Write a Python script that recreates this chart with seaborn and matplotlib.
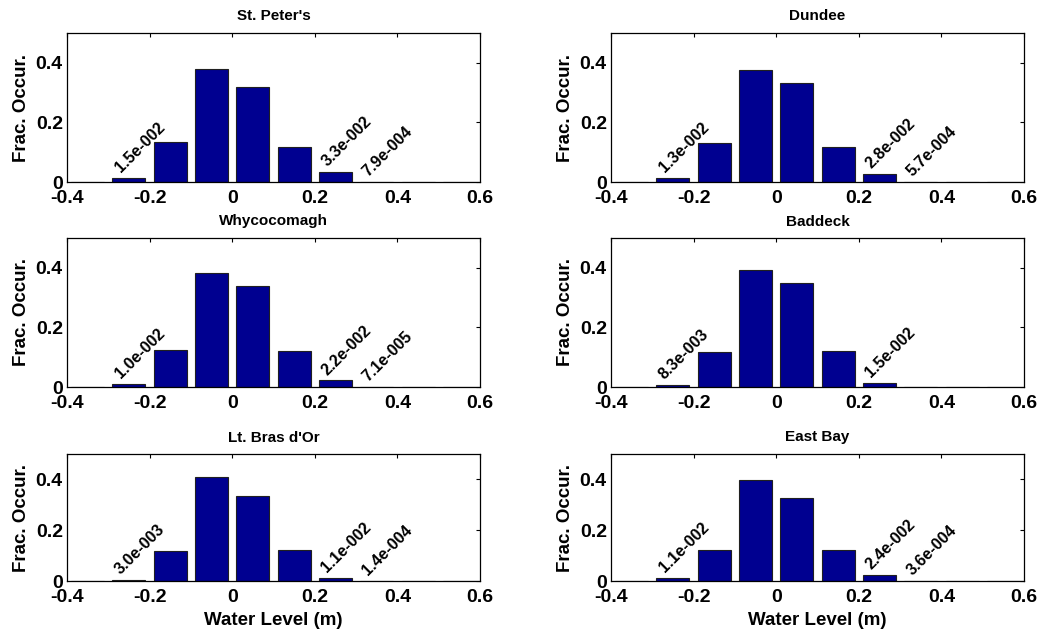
import matplotlib
matplotlib.use("Agg")
import matplotlib.pyplot as plt
import seaborn as sns
import pandas as pd

# ---- data ----
bin_centers = [-0.35, -0.25, -0.15, -0.05, 0.05, 0.15, 0.25, 0.35, 0.45, 0.55]
st_peters   = [0, 0.015, 0.135, 0.378, 0.320, 0.118, 0.033, 7.9e-4, 0, 0]
dundee      = [0, 0.013, 0.132, 0.377, 0.332, 0.117, 0.028, 5.7e-4, 0, 0]
whycocomagh = [0, 0.010, 0.125, 0.382, 0.338, 0.122, 0.022, 7.1e-5, 0, 0]
baddeck     = [0, 0.0083, 0.117, 0.391, 0.349, 0.120, 0.015, 0, 0, 0]
lt_bras_dor = [0, 0.003, 0.118, 0.409, 0.336, 0.122, 0.011, 1.4e-4, 0, 0]
east_bay    = [0, 0.011, 0.121, 0.396, 0.327, 0.121, 0.024, 3.6e-4, 0, 0]

titles = ["St. Peter's", "Dundee", "Whycocomagh", "Baddeck", "Lt. Bras d'Or", "East Bay"]
series = [st_peters, dundee, whycocomagh, baddeck, lt_bras_dor, east_bay]

x_ticks = [-0.4, -0.2, 0, 0.2, 0.4, 0.6]
x_tick_labels = ["-0.4", "-0.2", "0", "0.2", "0.4", "0.6"]
y_ticks = [0, 0.2, 0.4]
y_tick_labels = ["0", "0.2", "0.4"]

sns.set_theme(style="white")
plt.rcParams["font.family"] = ["Liberation Sans", "DejaVu Sans"]
plt.rcParams["font.weight"] = "bold"
plt.rcParams["axes.unicode_minus"] = False
for k in ["text.color", "axes.labelcolor", "xtick.color", "ytick.color", "axes.edgecolor"]:
    plt.rcParams[k] = "black"

BAR_COLOR = "#000090"


def fmt(v):
    s = f"{v:.1e}"
    m, e = s.split("e")
    return f"{m}e{int(e):+04d}"


fig = plt.figure(figsize=(10.42, 6.36), dpi=100)

W = 1042.0
H = 636.0
col_left = [67 / W, 611 / W]
ax_w = 413 / W
rows = [(33, 182), (238, 387), (454, 581)]

for i, (title, vals) in enumerate(zip(titles, series)):
    r, c = divmod(i, 2)
    top, bot = rows[r]
    ax = fig.add_axes([col_left[c], 1 - bot / H, ax_w, (bot - top) / H])
    df = pd.DataFrame({"level": bin_centers, "frac": vals})
    sns.barplot(data=df, x="level", y="frac", native_scale=True, orient="x",
                color=BAR_COLOR, saturation=1, edgecolor="#202020",
                linewidth=0.8, errorbar=None, width=0.8, ax=ax)
    ax.set_xlim(-0.4, 0.6)
    ax.set_ylim(0, 0.5)
    ax.set_xticks(x_ticks)
    ax.set_xticklabels(x_tick_labels)
    ax.set_yticks(y_ticks)
    ax.set_yticklabels(y_tick_labels)
    ax.tick_params(axis="both", direction="in", top=True, right=True,
                   length=3, width=0.8, color="black", labelcolor="black",
                   labelsize=14)
    ax.tick_params(axis="x", pad=6)
    ax.tick_params(axis="y", pad=3)
    for lab in ax.get_xticklabels() + ax.get_yticklabels():
        lab.set_fontweight("bold")
    for sp in ax.spines.values():
        sp.set_visible(True)
        sp.set_color("black")
        sp.set_linewidth(0.9)
    ax.set_title(title, fontsize=11, fontweight="bold", pad=9, color="black")
    ax.set_ylabel("Frac. Occur.", fontsize=13.5, fontweight="bold", labelpad=4,
                  color="black")
    if r == 2:
        ax.set_xlabel("Water Level (m)", fontsize=13.5, fontweight="bold",
                      labelpad=4, color="black")
    else:
        ax.set_xlabel("")
    for xc, v in zip(bin_centers, vals):
        if 0 < v < 0.05:
            ax.annotate(fmt(v), xy=(xc, v), xytext=(-6, 3.5),
                        textcoords="offset points", rotation=45,
                        rotation_mode="anchor", ha="left", va="baseline",
                        fontsize=11.5, fontweight="bold", color="black")

fig.savefig("out.png", dpi=100)
